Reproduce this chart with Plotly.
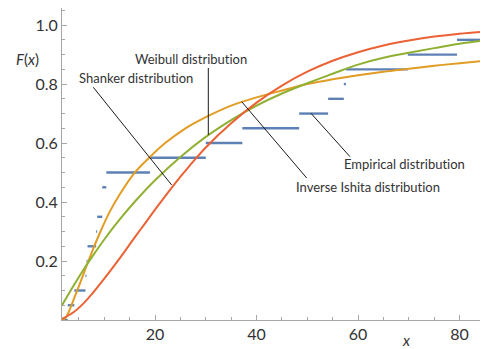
import plotly.graph_objects as go

# ---------------- data ----------------
# Empirical distribution: sorted observations (one tie at 9.6)
obs_x = [2.8, 4.1, 6.3, 6.5, 6.7, 8.4, 8.6, 9.6, 9.6, 10.4,
         19.0, 30.0, 37.2, 48.4, 54.1, 57.2, 57.6, 69.8, 79.5, 85.3]

# Shanker distribution (red)
shanker_x = [1.7, 4, 6, 8, 10, 12, 14, 16, 18, 20, 23.6, 27, 30, 35, 40,
             45, 50, 55, 60, 65, 70, 75, 80, 85.6]
shanker_y = [0.004, 0.027, 0.058, 0.097, 0.14, 0.185, 0.232, 0.28, 0.327,
             0.374, 0.456, 0.527, 0.585, 0.667, 0.737, 0.795, 0.842, 0.879,
             0.908, 0.931, 0.948, 0.961, 0.971, 0.979]

# Weibull distribution (green)
weibull_x = [1.67, 4, 6, 8, 10, 13, 16, 20, 25, 30, 35, 40, 45, 50, 55,
             60, 65, 70, 75, 80, 85.6]
weibull_y = [0.05, 0.118, 0.173, 0.224, 0.273, 0.34, 0.401, 0.474, 0.553,
             0.621, 0.678, 0.727, 0.768, 0.803, 0.835, 0.866, 0.889, 0.906,
             0.922, 0.937, 0.949]

# Inverse Ishita distribution (orange)
ishita_x = [1.7, 2.5, 3.3, 4.2, 5.0, 6.1, 7.5, 9, 11, 13, 16, 19, 22, 26,
            30.5, 35, 40, 45, 50, 55, 60, 65, 70, 75, 80, 85.6]
ishita_y = [0.0, 0.01, 0.04, 0.08, 0.115, 0.165, 0.228, 0.29, 0.365, 0.425,
            0.5, 0.553, 0.6, 0.65, 0.692, 0.727, 0.755, 0.778, 0.8, 0.816,
            0.83, 0.842, 0.852, 0.862, 0.871, 0.88]

x_ticks = [20, 40, 60, 80]
y_ticks = [0.2, 0.4, 0.6, 0.8, 1.0]
y_tick_text = ["0.2", "0.4", "0.6", "0.8", "1.0"]

ZW = "\u200c"  # zero-width non-joiner, avoids the "ti" ligature of the font
labels = ["Shanker dis" + "t" + ZW + "ribu" + "t" + ZW + "ion",
          "Weibull dis" + "t" + ZW + "ribu" + "t" + ZW + "ion",
          "Inverse Ishita dis" + "t" + ZW + "ribu" + "t" + ZW + "ion",
          "Empirical dis" + "t" + ZW + "ribu" + "t" + ZW + "ion"]

# ---------------- layout geometry ----------------
# the page body has an 8px margin, so the figure starts at (8, 8) on screen
OFF = 8
W, H = 480, 341
ML, MR, MT, MB = 54, 0, 0, 29
X_MIN, X_MAX = 1.67, 85.6
Y_MIN, Y_MAX = 0.0, 1.058
PW, PH = W - ML - MR, H - MT - MB
LEFT, TOP = OFF + ML, OFF + MT


def px2x(px):
    return X_MIN + (px - LEFT) / PW * (X_MAX - X_MIN)


def py2y(py):
    return Y_MIN + (TOP + PH - py) / PH * (Y_MAX - Y_MIN)


def px2paper(px):
    return (px - LEFT) / PW


def py2paper(py):
    return (TOP + PH - py) / PH


BLUE = "#5E81B5"
ORANGE = "#E19C24"
GREEN = "#8FB032"
RED = "#EB6235"
TXT = "#333333"
AX = "#a6a6a6"
FONT = "Lato"

fig = go.Figure()

# empirical step segments (horizontal only)
n = len(obs_x)
edges = [X_MIN] + obs_x + [X_MAX]
sx, sy = [], []
for i in range(len(edges) - 1):
    if edges[i + 1] > edges[i]:
        sx += [edges[i], edges[i + 1], None]
        sy += [i / n, i / n, None]
fig.add_trace(go.Scatter(x=sx, y=sy, mode="lines",
                         line=dict(color=BLUE, width=2.4),
                         cliponaxis=False, hoverinfo="skip"))

for xs, ys, c in [(ishita_x, ishita_y, ORANGE),
                  (weibull_x, weibull_y, GREEN),
                  (shanker_x, shanker_y, RED)]:
    fig.add_trace(go.Scatter(x=xs, y=ys, mode="lines",
                             line=dict(color=c, width=2, shape="spline",
                                       smoothing=1.0),
                             hoverinfo="skip"))

# leader lines (screen pixel positions of the reference, in data units)
leaders = [((93.3, 87.3), (171.7, 185.0)),
           ((208.3, 68.0), (208.3, 135.0)),
           ((306.7, 178.0), (241.7, 101.7)),
           ((350.0, 156.7), (311.0, 113.3))]
for (p0, p1) in leaders:
    fig.add_shape(type="line", xref="x", yref="y",
                  x0=px2x(p0[0]), y0=py2y(p0[1]),
                  x1=px2x(p1[0]), y1=py2y(p1[1]),
                  line=dict(color="#1a1a1a", width=1))

label_pos = [(135.5, 78), (191, 59), (368, 186.5), (404, 164)]
for txt, (px, py) in zip(labels, label_pos):
    fig.add_annotation(x=px2x(px), y=py2y(py), xref="x", yref="y",
                       text=txt, showarrow=False, xanchor="center",
                       yanchor="middle",
                       font=dict(family=FONT, size=13, color=TXT))

# axis titles (paper coordinates, may lie outside the plot area)
fig.add_annotation(x=px2paper(27.5), y=py2paper(59), xref="paper",
                   yref="paper", text="<i>F</i>(<i>x</i>)", showarrow=False,
                   xanchor="center", yanchor="middle",
                   font=dict(family=FONT, size=15, color=TXT))
fig.add_annotation(x=px2paper(406), y=py2paper(339.5), xref="paper",
                   yref="paper", text="<i>x</i>", showarrow=False,
                   xanchor="center", yanchor="middle", borderpad=0,
                   font=dict(family=FONT, size=15, color=TXT))

fig.update_layout(
    width=W, height=H,
    margin=dict(l=ML, r=MR, t=MT, b=MB, pad=0),
    paper_bgcolor="white", plot_bgcolor="white",
    showlegend=False,
    font=dict(family=FONT, color=TXT),
    xaxis=dict(range=[X_MIN, X_MAX], showgrid=False, zeroline=False,
               showline=True, linecolor=AX, linewidth=1,
               tickmode="array", tickvals=x_ticks,
               ticks="inside", ticklen=5, tickcolor=AX, tickwidth=1,
               tickfont=dict(family=FONT, size=16, color=TXT),
               minor=dict(tick0=0, dtick=5, ticks="inside", ticklen=3,
                          tickcolor=AX, tickwidth=1, showgrid=False),
               fixedrange=True),
    yaxis=dict(range=[Y_MIN, Y_MAX], showgrid=False, zeroline=False,
               showline=True, linecolor=AX, linewidth=1,
               tickmode="array", tickvals=y_ticks, ticktext=y_tick_text,
               ticks="inside", ticklen=5, tickcolor=AX, tickwidth=1,
               tickfont=dict(family=FONT, size=16, color=TXT),
               minor=dict(tick0=0, dtick=0.05, ticks="inside", ticklen=3,
                          tickcolor=AX, tickwidth=1, showgrid=False),
               fixedrange=True),
)

fig.write_html("out.html")
